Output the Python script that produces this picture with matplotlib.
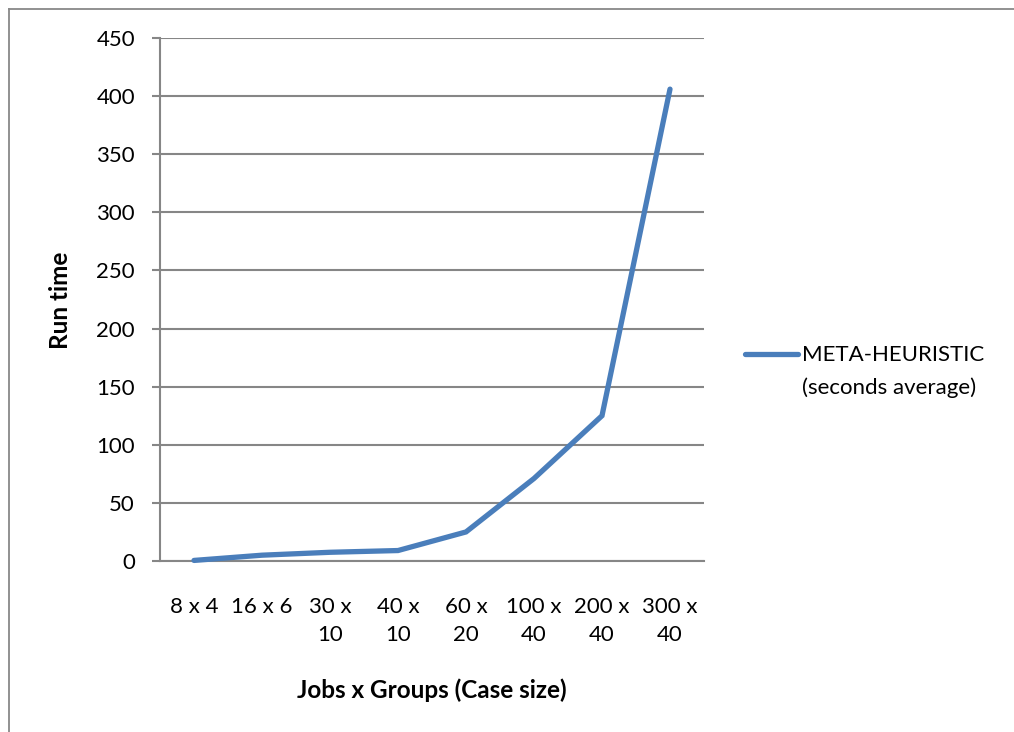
import matplotlib
matplotlib.use("Agg")
import matplotlib.pyplot as plt
from matplotlib.lines import Line2D

plt.rcParams['font.family'] = ['Lato', 'DejaVu Sans']

categories = ["8 x 4", "16 x 6", "30 x\n10", "40 x\n10", "60 x\n20", "100 x\n40", "200 x\n40", "300 x\n40"]
run_time = [0.5, 5, 7.5, 9, 25, 71, 125, 406]
series_name = "META-HEURISTIC\n(seconds average)"
y_ticks = [0, 50, 100, 150, 200, 250, 300, 350, 400, 450]

W, H = 1014, 732
fig = plt.figure(figsize=(W / 100, H / 100), dpi=100)
fig.patch.set_facecolor("white")

def fx(px):
    return px / W

def fy(py):
    return 1 - py / H

ax = fig.add_axes([fx(160), fy(561), fx(704) - fx(160), fy(38) - fy(561)])

grid_c = "#868686"
line_c = "#4a7ebb"

x = list(range(len(categories)))
ax.plot(x, run_time, color=line_c, lw=3.8, solid_capstyle="round",
        solid_joinstyle="miter", zorder=3, clip_on=False)

ax.set_xlim(-0.5, len(categories) - 0.5)
ax.set_ylim(0, 450)
ax.set_yticks(y_ticks)
ax.set_yticklabels([str(v) for v in y_ticks])
ax.yaxis.grid(True, color=grid_c, lw=1.5)
ax.set_axisbelow(True)

for side in ("top", "right"):
    ax.spines[side].set_visible(False)
ax.spines["left"].set_color(grid_c)
ax.spines["left"].set_linewidth(1.5)
ax.spines["bottom"].set_color(grid_c)
ax.spines["bottom"].set_linewidth(1.5)

ax.tick_params(axis="y", length=6, width=1.5, color=grid_c, pad=12,
               labelsize=16, labelcolor="black")
ax.set_xticks(x)
ax.set_xticklabels(categories)
ax.tick_params(axis="x", length=0, pad=26, labelsize=16, labelcolor="black")
for lab in ax.get_xticklabels():
    lab.set_linespacing(1.5)
    lab.set_verticalalignment("top")

fig.text(fx(60), fy(300), "Run time", rotation=90, ha="center", va="center",
         fontsize=17.5, fontweight="bold")
fig.text(fx(432), fy(690), "Jobs x Groups (Case size)", ha="center", va="center",
         fontsize=17.5, fontweight="bold")

# legend entry
fig.add_artist(Line2D([fx(745), fx(798)], [fy(354), fy(354)], color=line_c,
                      lw=3.8, solid_capstyle="round"))
fig.text(fx(802), fy(355), "META-HEURISTIC", ha="left", va="center", fontsize=16)
fig.text(fx(802), fy(388), "(seconds average)", ha="left", va="center", fontsize=16)

# chart frame
fig.add_artist(Line2D([fx(9), 1.0], [fy(8.5), fy(8.5)], color="#888888", lw=1.3))
fig.add_artist(Line2D([fx(9), fx(9)], [fy(8.5), 0.0], color="#888888", lw=1.3))

fig.savefig("out.png", dpi=100, facecolor="white")
